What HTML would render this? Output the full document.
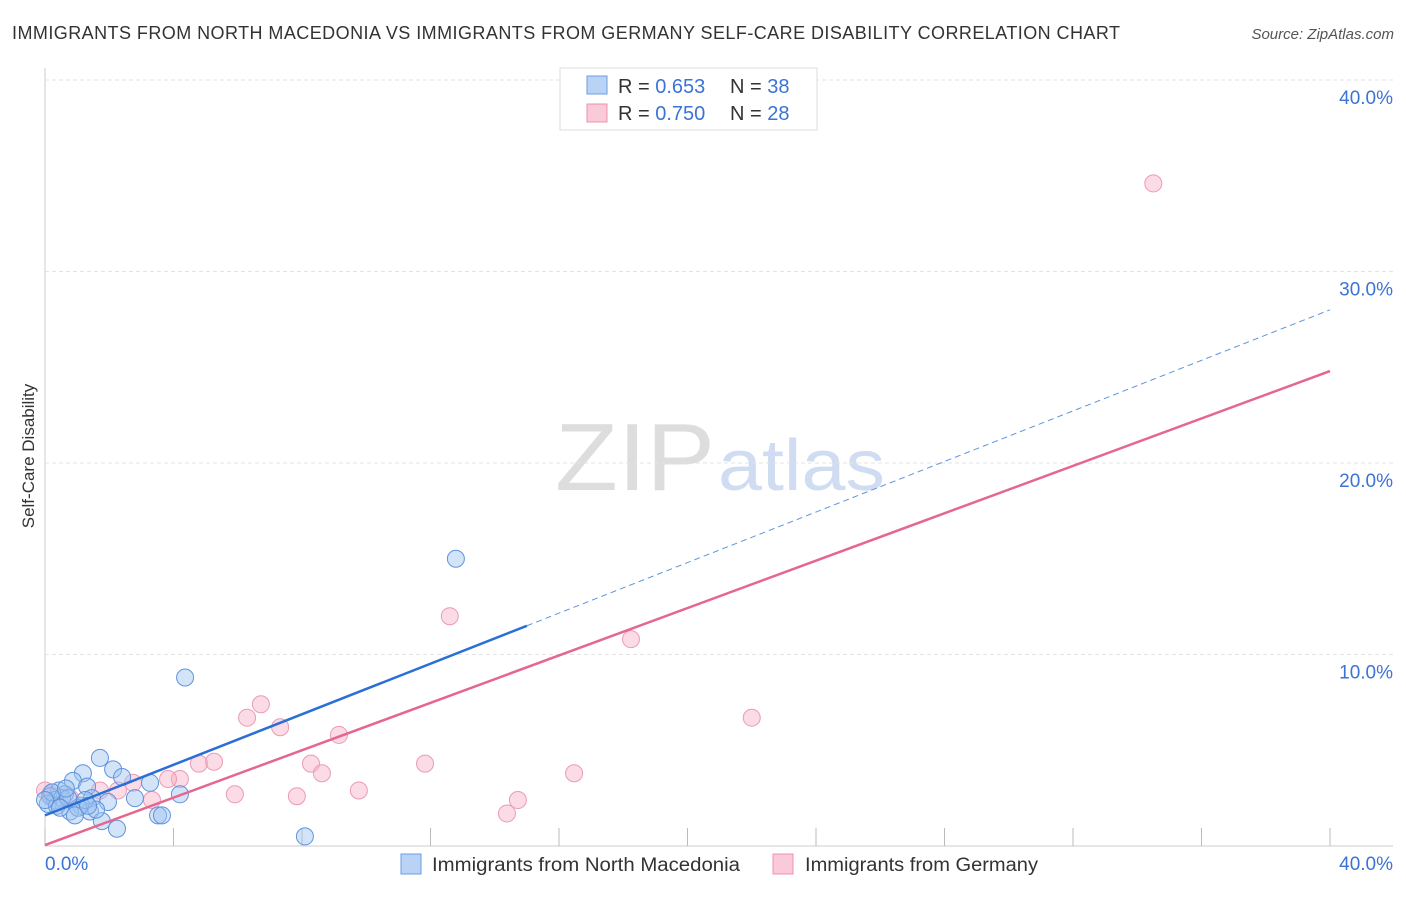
<!DOCTYPE html>
<html><head><meta charset="utf-8"><style>
body{margin:0;background:#fff;font-family:"Liberation Sans",sans-serif}
svg text{font-family:"Liberation Sans",sans-serif}
</style></head><body>
<svg width="1406" height="892">
<text x="12" y="39" font-size="18" fill="#333" textLength="1108" lengthAdjust="spacing">IMMIGRANTS FROM NORTH MACEDONIA VS IMMIGRANTS FROM GERMANY SELF-CARE DISABILITY CORRELATION CHART</text>
<text x="1394" y="39" font-size="15" fill="#555" font-style="italic" text-anchor="end">Source: ZipAtlas.com</text>
<text x="555" y="490" font-size="96" fill="#ddd" textLength="160" lengthAdjust="spacingAndGlyphs" font-family="Liberation Serif">ZIP</text>
<text x="718" y="490" font-size="72" fill="#cfdcf2" textLength="167" lengthAdjust="spacingAndGlyphs">atlas</text>
<g id="grid"></g><g id="pts"></g><g id="lines"></g>
<text transform="translate(34,456) rotate(-90)" font-size="17" fill="#333" text-anchor="middle">Self-Care Disability</text>
<text x="45" y="870" font-size="19" fill="#3b73d6">0.0%</text>
<text x="1393" y="870" font-size="19" fill="#3b73d6" text-anchor="end">40.0%</text>
<g>
<rect x="560" y="68" width="257" height="62" fill="#fff" stroke="#ddd"/>
<rect x="587" y="76" width="20" height="18" fill="#b9d3f7" stroke="#6b9de0"/>
<rect x="587" y="104" width="20" height="18" fill="#fbcad8" stroke="#ee92b0"/>
<text x="618" y="93" font-size="20" fill="#333">R = <tspan fill="#3b73d6">0.653</tspan></text>
<text x="730" y="93" font-size="20" fill="#333">N = <tspan fill="#3b73d6">38</tspan></text>
<text x="618" y="120" font-size="20" fill="#333">R = <tspan fill="#3b73d6">0.750</tspan></text>
<text x="730" y="120" font-size="20" fill="#333">N = <tspan fill="#3b73d6">28</tspan></text>
</g>
<g>
<rect x="401" y="854" width="20" height="20" fill="#b9d3f7" stroke="#6b9de0"/>
<text x="432" y="871" font-size="19" fill="#333" textLength="308" lengthAdjust="spacingAndGlyphs">Immigrants from North Macedonia</text>
<rect x="773" y="854" width="20" height="20" fill="#fbcad8" stroke="#ee92b0"/>
<text x="805" y="871" font-size="19" fill="#333" textLength="233" lengthAdjust="spacingAndGlyphs">Immigrants from Germany</text>
</g>
</svg>
<script>
const yTicks=[10,20,30,40];
const xTicks=[0,4,8,12,16,20,24,28,32,36,40];
const blueX=[1.71,2.12,1.18,0.87,2.40,3.27,1.31,0.44,0.62,0.16,1.46,2.80,4.20,1.96,1.12,0.78,1.40,1.77,2.24,3.52,3.64,0.31,0.53,1.03,0.09,0.37,4.36,12.79,8.09,0.22,0.72,1.59,0.93,1.25,0.0,0.47,1.34,0.65];
const blueY=[4.6,4.0,3.8,3.4,3.6,3.3,3.1,2.9,2.7,2.6,2.5,2.5,2.7,2.3,2.1,1.8,1.8,1.3,0.9,1.6,1.6,2.4,2.5,2.0,2.2,2.1,8.8,15.0,0.5,2.8,2.5,1.9,1.6,2.4,2.4,2.0,2.1,3.0];
const pinkX=[34.5,12.6,18.24,22.0,6.72,6.29,7.32,9.15,5.26,4.79,8.28,8.62,11.83,16.47,4.20,3.83,5.91,7.84,9.77,14.72,14.38,3.33,2.74,1.71,2.27,0.16,0.0,0.78];
const pinkY=[34.6,12.0,10.8,6.7,7.4,6.7,6.2,5.8,4.4,4.3,4.3,3.8,4.3,3.8,3.5,3.5,2.7,2.6,2.9,2.4,1.7,2.4,3.3,2.9,2.9,2.7,2.9,2.5];
const blueFit=[0,1.6,15,11.5,40,28];
const pinkFit=[0,0.05,40,24.8];
const NS='http://www.w3.org/2000/svg';
const sx=v=>45+v*32.125, sy=v=>846-v*19.15;
function mk(t,a,p){const e=document.createElementNS(NS,t);for(const k in a)e.setAttribute(k,a[k]);p.appendChild(e);return e;}
const grid=document.getElementById('grid');
const svg=document.querySelector('svg');
mk('line',{x1:45,y1:846,x2:1393,y2:846,stroke:'#ccc'},grid);
mk('line',{x1:45,y1:68,x2:45,y2:846,stroke:'#ccc'},grid);
yTicks.forEach(t=>{
 const l=mk('line',{x1:45,y1:sy(t),x2:1393,y2:sy(t),stroke:'#e3e3e3','stroke-dasharray':'4,3'},grid);
 
 
 const tx=mk('text',{x:1393,y:sy(t)+24,'font-size':19,fill:'#3b73d6','text-anchor':'end'},svg);
 tx.textContent=t.toFixed(1)+'%';
 
 
});
xTicks.forEach(t=>{
 const l=mk('line',{x1:sx(t),y1:846,x2:sx(t),y2:828,stroke:'#bbb'},grid);
 
 
});
const pts=document.getElementById('pts');
pinkX.forEach((x,i)=>{
 const c=mk('circle',{cx:sx(x),cy:sy(pinkY[i]),r:8.5,fill:'rgba(247,175,198,0.45)',stroke:'#ec9ab5','stroke-width':1},pts);
 
 
});
blueX.forEach((x,i)=>{
 const c=mk('circle',{cx:sx(x),cy:sy(blueY[i]),r:8.5,fill:'rgba(160,196,240,0.45)',stroke:'#5e94de','stroke-width':1},pts);
 
 
});
const lines=document.getElementById('lines');
let l=mk('line',{x1:sx(blueFit[0]),y1:sy(blueFit[1]),x2:sx(blueFit[2]),y2:sy(blueFit[3]),stroke:'#2a6fd6','stroke-width':2.5},lines);


l=mk('line',{x1:sx(blueFit[2]),y1:sy(blueFit[3]),x2:sx(blueFit[4]),y2:sy(blueFit[5]),stroke:'#5e94de','stroke-width':1,'stroke-dasharray':'6,4'},lines);


l=mk('line',{x1:sx(pinkFit[0]),y1:sy(pinkFit[1]),x2:sx(pinkFit[2]),y2:sy(pinkFit[3]),stroke:'#e5668f','stroke-width':2.5},lines);


</script>
</body></html>
